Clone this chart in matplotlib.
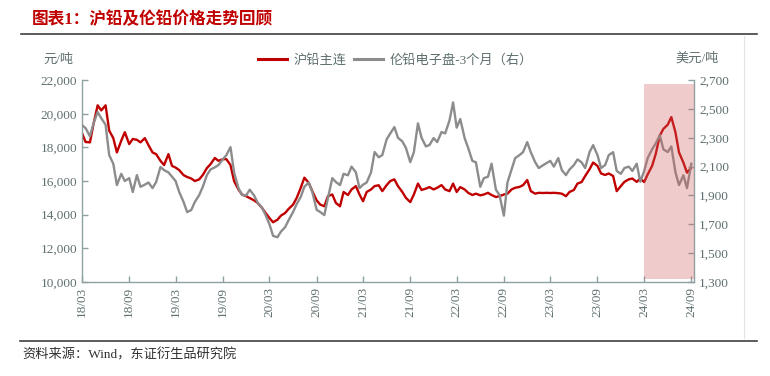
import numpy as np
import pandas as pd
import matplotlib
matplotlib.use('Agg')
import matplotlib.pyplot as plt
import matplotlib.dates as mdates
from matplotlib.ticker import FuncFormatter

plt.rcParams['font.family'] = ['Liberation Serif', 'Noto Sans CJK SC']

# semi-monthly readings, 2018-03-01 .. 2024-09-01
dates = pd.date_range('2018-03-01', periods=157, freq='SMS')

# SHFE lead, continuous contract (yuan/t)
shfe_lead = [
    18850, 18320, 18300, 19400, 20500, 20200, 20500, 19000, 18550, 17700,
    18400, 18900, 18200, 18500, 18450, 18300, 18550, 18140, 17700, 17600,
    17200, 16950, 17600, 16900, 16800, 16650, 16350, 16240, 16150, 16000,
    16100, 16360, 16770, 17000, 17370, 17200, 17300, 17300, 16950, 16000,
    15500, 15200, 15100, 14990, 14850, 14700, 14400, 14100, 13800, 13550,
    13700, 13950, 14100, 14350, 14600, 14990, 15600, 16200, 15900, 15400,
    14850, 14600, 14500, 15100, 15200, 14700, 14500, 15350, 15170, 15500,
    15700, 15200, 14800, 15350, 15500, 15700, 15750, 15400, 15760, 16000,
    16100, 15700, 15350, 15000, 14750, 15200, 15850, 15470, 15550, 15640,
    15500, 15600, 15760, 15500, 15400, 15850, 15350, 15640, 15500, 15300,
    15170, 15250, 15150, 15200, 15300, 15170, 15050, 15100, 15200, 15250,
    15500, 15600, 15650, 15760, 16060, 15400, 15250, 15300, 15290, 15300,
    15290, 15300, 15280, 15250, 15100, 15350, 15470, 15850, 15940, 16300,
    16700, 17100, 16900, 16450, 16360, 16450, 16300, 15400, 15700, 15950,
    16100, 16150, 15950, 16150, 15940, 16400, 16900, 17600, 18700, 19100,
    19350, 19800, 18900, 17700, 17100, 16500, 16800,
]

# LME lead 3M electronic (USD/t, right axis)
lme_lead = [
    2388, 2367, 2310, 2400, 2478, 2436, 2390, 2180, 2120, 1972,
    2050, 2000, 2020, 1924, 2041, 1960, 1975, 1990, 1951, 1993,
    2097, 2076, 2060, 2030, 2000, 1924, 1855, 1785, 1799, 1855,
    1903, 1960, 2041, 2080, 2095, 2111, 2150, 2180, 2235, 2060,
    1951, 1903, 1900, 1940, 1900, 1850, 1815, 1764, 1700, 1620,
    1610, 1650, 1680, 1730, 1785, 1840, 1890, 1960, 1990, 1924,
    1800, 1785, 1764, 1882, 2020, 1993, 1972, 2050, 2040, 2100,
    2060, 1951, 1975, 1990, 2060, 2201, 2165, 2180, 2290, 2330,
    2374, 2300, 2275, 2230, 2131, 2200, 2400, 2300, 2240, 2250,
    2298, 2270, 2340, 2330, 2420, 2545, 2370, 2430, 2298, 2229,
    2140, 2130, 1960, 2020, 2030, 2120, 1940, 1903, 1760, 1990,
    2080, 2159, 2180, 2201, 2270, 2200, 2131, 2090, 2110, 2125,
    2140, 2100, 2159, 2076, 2041, 2080, 2111, 2150, 2130, 2090,
    2200, 2249, 2180, 2090, 2111, 2180, 2200, 2070, 2050, 2090,
    2100, 2070, 2120, 1995, 2070, 2160, 2220, 2260, 2318, 2220,
    2201, 2240, 2062, 1972, 2040, 1951, 2120,
]

highlight_start = '2024-03-01'
highlight_end = '2024-09-12'

RED = '#c00000'
GREY = '#8c8c8c'
AXIS = '#8fa0a0'
TXT = '#5f6f6f'

fig = plt.figure(figsize=(7.7, 3.76), dpi=100)
ax = fig.add_axes([0.1065, 0.25, 0.795, 0.537])
ax2 = ax.twinx()

ax.plot(dates, shfe_lead, color=RED, lw=1.7, label='沪铅主连')
ax2.plot(dates, lme_lead, color=GREY, lw=1.7, label='伦铅电子盘-3个月（右）')
ax2.axvspan(pd.Timestamp(highlight_start), pd.Timestamp(highlight_end),
            ymin=0.014, ymax=0.979, color='#d06060', alpha=0.32, lw=0, zorder=5)

ax.set_xlim(pd.Timestamp('2018-03-01'), pd.Timestamp('2024-09-12'))
ax.set_ylim(10000, 22000)
ax2.set_ylim(1300, 2700)
ax.set_yticks(np.arange(10000, 22001, 2000))
ax2.set_yticks(np.arange(1300, 2701, 200))
comma = FuncFormatter(lambda v, p: f'{v:,.0f}')
ax.yaxis.set_major_formatter(comma)
ax2.yaxis.set_major_formatter(comma)

ax.xaxis.set_major_locator(mdates.MonthLocator(bymonth=[3, 9]))
ax.xaxis.set_major_formatter(mdates.DateFormatter('%y/%m'))
for lbl in ax.get_xticklabels():
    lbl.set_rotation(90)

for a in (ax, ax2):
    for s in a.spines.values():
        s.set_color(AXIS)
        s.set_linewidth(1.0)
    a.spines['top'].set_visible(False)
    a.tick_params(direction='in', length=4, color=AXIS, labelcolor=TXT,
                  labelsize=9.5, width=1.0)
ax.spines['right'].set_visible(False)
ax2.spines['left'].set_visible(False)
ax2.spines['bottom'].set_visible(False)

# unit labels
fig.text(58 / 770, 1 - 60 / 376, '元/吨', ha='center', va='center',
         fontsize=9.5, color=TXT)
fig.text(697 / 770, 1 - 58 / 376, '美元/吨', ha='center', va='center',
         fontsize=9.5, color=TXT)

h1, l1 = ax.get_legend_handles_labels()
h2, l2 = ax2.get_legend_handles_labels()
leg = ax2.legend(h1 + h2, l1 + l2, loc='center', bbox_to_anchor=(0.512, 1.1),
                 ncol=2, frameon=False, fontsize=9.5, handlelength=2.2,
                 handletextpad=0.5, columnspacing=0.5)
for t in leg.get_texts():
    t.set_color(TXT)
for ln in leg.get_lines():
    ln.set_linewidth(2.2)

# title, rules and source
fig.text(32 / 770, 1 - 20 / 376, '图表1：沪铅及伦铅价格走势回顾', ha='left', va='center',
         fontsize=12, fontweight='bold', color=RED)
fig.add_artist(plt.Line2D([21 / 770, 757 / 770], [1 - 34 / 376] * 2,
                          color='#404040', lw=1.2))
fig.add_artist(plt.Line2D([20 / 770, 757 / 770], [1 - 341 / 376] * 2,
                          color='#404040', lw=1.2))
fig.add_artist(plt.Line2D([744 / 770] * 2, [1 - 36 / 376, 1 - 338 / 376],
                          color='#e4e4e4', lw=0.8))
fig.text(22 / 770, 1 - 355 / 376, '资料来源：Wind，东证衍生品研究院', ha='left',
         va='center', fontsize=9.5, color='#303030')

fig.savefig('out.png', dpi=100)
